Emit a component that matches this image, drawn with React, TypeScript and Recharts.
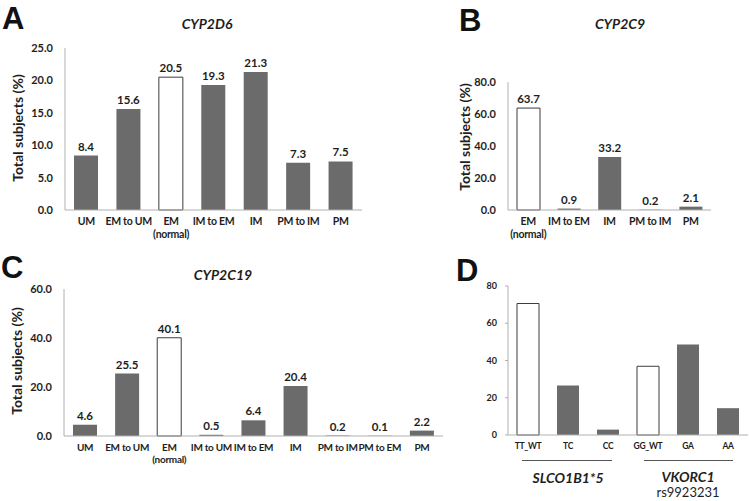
import React from 'react';
import { BarChart, Bar, XAxis, YAxis, Cell, LabelList } from 'recharts';

// Panel A: CYP2D6
const A_CATS = ['UM', 'EM to UM', 'EM\n(normal)', 'IM to EM', 'IM', 'PM to IM', 'PM'];
const A_VALUES = [8.4, 15.6, 20.5, 19.3, 21.3, 7.3, 7.5];
const A_TICKS = [0, 5, 10, 15, 20, 25];

// Panel B: CYP2C9
const B_CATS = ['EM\n(normal)', 'IM to EM', 'IM', 'PM to IM', 'PM'];
const B_VALUES = [63.7, 0.9, 33.2, 0.2, 2.1];
const B_TICKS = [0, 20, 40, 60, 80];

// Panel C: CYP2C19
const C_CATS = ['UM', 'EM to UM', 'EM\n(normal)', 'IM to UM', 'IM to EM', 'IM', 'PM to IM', 'PM to EM', 'PM'];
const C_VALUES = [4.6, 25.5, 40.1, 0.5, 6.4, 20.4, 0.2, 0.1, 2.2];
const C_TICKS = [0, 20, 40, 60];

// Panel D: SLCO1B1*5 and VKORC1 rs9923231
const D_CATS = ['TT_WT', 'TC', 'CC', 'GG_WT', 'GA', 'AA'];
const D_VALUES = [70.6, 26.6, 2.9, 36.9, 48.6, 14.4];
const D_TICKS = [0, 20, 40, 60, 80];

// reference (wild type) categories drawn as open bars
const NORMAL_CATS = ['EM\n(normal)', 'TT_WT', 'GG_WT'];

const FONT = 'Lato, "Open Sans", sans-serif';
const BAR_GRAY = '#6b6b6b';
const AXIS_GRAY = '#b0b0b0';
const TEXT = '#1e1e1e';

interface TickProps {
  x?: number;
  y?: number;
  payload?: { value: string };
  fontSize: number;
}

function MultiLineTick({ x = 0, y = 0, payload, fontSize }: TickProps) {
  const lines = String(payload?.value ?? '').split('\n');
  return (
    <text
      x={x}
      y={y}
      textAnchor="middle"
      fontSize={fontSize}
      fontWeight={700}
      fill={TEXT}
      fontFamily={FONT}
      letterSpacing={-0.3}
    >
      {lines.map((l, i) => (
        <tspan key={i} x={x} dy={i === 0 ? '0.65em' : '1.25em'}>
          {l}
        </tspan>
      ))}
    </text>
  );
}

interface PanelProps {
  cats: string[];
  values: number[];
  ticks: number[];
  left: number;
  top: number;
  width: number;
  height: number;
  plotLeft: number;
  plotRight: number;
  plotTop: number;
  plotBottom: number;
  barSize: number;
  tickFont: number;
  yTickFont: number;
  decimals: number;
  showLabels: boolean;
  yTickLine?: boolean;
}

function Panel(p: PanelProps) {
  const data = p.cats.map((c, i) => ({ cat: c, value: p.values[i] }));
  const xAxisHeight = 34;
  const margin = {
    top: p.plotTop - p.top,
    right: p.left + p.width - p.plotRight,
    left: 0,
    bottom: p.top + p.height - p.plotBottom - xAxisHeight,
  };
  return (
    <div style={{ position: 'absolute', left: p.left, top: p.top }}>
      <BarChart width={p.width} height={p.height} data={data} margin={margin}>
        <XAxis
          dataKey="cat"
          interval={0}
          height={xAxisHeight}
          axisLine={{ stroke: AXIS_GRAY }}
          tickLine={false}
          tick={<MultiLineTick fontSize={p.tickFont} />}
        />
        <YAxis
          width={p.plotLeft - p.left}
          domain={[p.ticks[0], p.ticks[p.ticks.length - 1]]}
          ticks={p.ticks}
          axisLine={{ stroke: AXIS_GRAY }}
          tickLine={p.yTickLine ? { stroke: AXIS_GRAY } : false}
          tickSize={p.yTickLine ? 3 : 6}
          tickMargin={p.yTickLine ? 8 : 6}
          tickFormatter={(v: number) => v.toFixed(p.decimals)}
          tick={{ fill: TEXT, fontSize: p.yTickFont, fontWeight: 700, fontFamily: FONT }}
        />
        <Bar dataKey="value" barSize={p.barSize} isAnimationActive={false}>
          {data.map((d, i) => {
            const open = NORMAL_CATS.includes(d.cat);
            return (
              <Cell
                key={i}
                fill={open ? '#ffffff' : BAR_GRAY}
                stroke={open ? '#3c3c3c' : 'none'}
                strokeWidth={open ? 1 : 0}
              />
            );
          })}
          {p.showLabels && (
            <LabelList
              dataKey="value"
              position="top"
              offset={5}
              formatter={(v: number) => v.toFixed(1)}
              style={{ fill: TEXT, fontSize: 11.5, fontWeight: 700, fontFamily: FONT }}
            />
          )}
        </Bar>
      </BarChart>
    </div>
  );
}

const textBase: React.CSSProperties = {
  position: 'absolute',
  fontFamily: FONT,
  color: TEXT,
  whiteSpace: 'nowrap',
  lineHeight: 1,
};

function Letter({ ch, x, y }: { ch: string; x: number; y: number }) {
  return (
    <div style={{ ...textBase, left: x, top: y, fontSize: 31, fontWeight: 700, fontFamily: '"Liberation Sans", Arial, sans-serif', color: '#111' }}>
      {ch}
    </div>
  );
}

function Title({ text, cx, cy }: { text: string; cx: number; cy: number }) {
  return (
    <div style={{ ...textBase, left: cx - 100, top: cy - 8, width: 200, textAlign: 'center', fontSize: 14, fontWeight: 700, fontStyle: 'italic' }}>
      {text}
    </div>
  );
}

function YLabel({ cx, cy }: { cx: number; cy: number }) {
  return (
    <div
      style={{
        ...textBase,
        left: cx - 100,
        top: cy - 8,
        width: 200,
        textAlign: 'center',
        fontSize: 14,
        fontWeight: 700,
        transform: 'rotate(-90deg)',
      }}
    >
      Total subjects (%)
    </div>
  );
}

export default function App() {
  return (
    <div style={{ position: 'absolute', left: 0, top: 0, width: 749, height: 501, background: '#fff', overflow: 'hidden' }}>
      <Panel
        cats={A_CATS} values={A_VALUES} ticks={A_TICKS}
        left={0} top={0} width={380} height={250}
        plotLeft={65} plotRight={362} plotTop={48} plotBottom={210}
        barSize={24} tickFont={10.5} yTickFont={11} decimals={1} showLabels
      />
      <Panel
        cats={B_CATS} values={B_VALUES} ticks={B_TICKS}
        left={380} top={0} width={369} height={250}
        plotLeft={508} plotRight={711} plotTop={82} plotBottom={210}
        barSize={23} tickFont={10.5} yTickFont={11} decimals={1} showLabels
      />
      <Panel
        cats={C_CATS} values={C_VALUES} ticks={C_TICKS}
        left={0} top={250} width={446} height={251}
        plotLeft={64} plotRight={443} plotTop={289} plotBottom={436}
        barSize={24} tickFont={10} yTickFont={11} decimals={1} showLabels
      />
      <Panel
        cats={D_CATS} values={D_VALUES} ticks={D_TICKS}
        left={446} top={250} width={303} height={251}
        plotLeft={508} plotRight={748} plotTop={286} plotBottom={435}
        barSize={22} tickFont={8.5} yTickFont={9} decimals={0} showLabels={false} yTickLine
      />

      <Letter ch="A" x={2} y={3} />
      <Letter ch="B" x={459} y={5} />
      <Letter ch="C" x={1} y={252} />
      <Letter ch="D" x={456} y={255} />

      <Title text="CYP2D6" cx={207} cy={25} />
      <Title text="CYP2C9" cx={620} cy={25} />
      <Title text="CYP2C19" cx={223} cy={276} />
      <YLabel cx={18} cy={129} />
      <YLabel cx={465} cy={138} />
      <YLabel cx={17} cy={362} />

      <div style={{ position: 'absolute', left: 522, top: 460, width: 90, height: 1, background: '#555' }} />
      <div style={{ position: 'absolute', left: 644, top: 460, width: 89, height: 1, background: '#555' }} />
      <div style={{ ...textBase, left: 518, top: 471, width: 100, textAlign: 'center', fontSize: 14, fontWeight: 700, fontStyle: 'italic' }}>
        SLCO1B1*5
      </div>
      <div style={{ ...textBase, left: 638, top: 470, width: 100, textAlign: 'center', fontSize: 14, fontWeight: 700, fontStyle: 'italic' }}>
        VKORC1
      </div>
      <div style={{ ...textBase, left: 638, top: 486, width: 100, textAlign: 'center', fontSize: 13 }}>
        rs9923231
      </div>
    </div>
  );
}
